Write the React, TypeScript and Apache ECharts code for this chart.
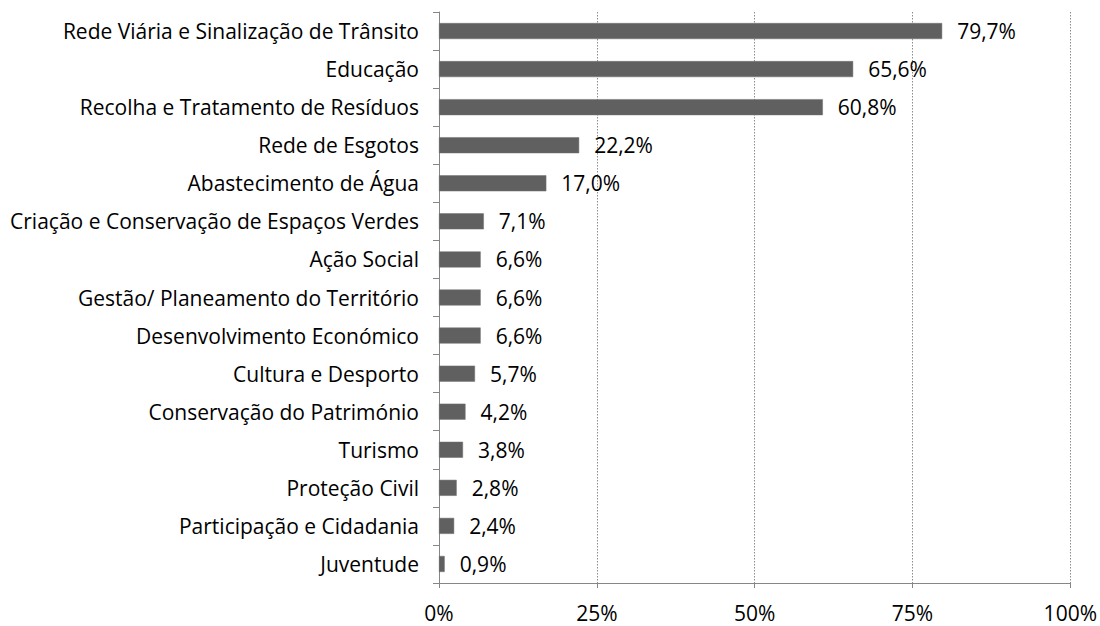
import React, { useEffect, useRef } from "react";
import * as echarts from "echarts";

const categories = [
  "Rede Viária e Sinalização de Trânsito",
  "Educação",
  "Recolha e Tratamento de Resíduos",
  "Rede de Esgotos",
  "Abastecimento de Água",
  "Criação e Conservação de Espaços Verdes",
  "Ação Social",
  "Gestão/ Planeamento do Território",
  "Desenvolvimento Económico",
  "Cultura e Desporto",
  "Conservação do Património",
  "Turismo",
  "Proteção Civil",
  "Participação e Cidadania",
  "Juventude",
];

const values = [79.7, 65.6, 60.8, 22.2, 17.0, 7.1, 6.6, 6.6, 6.6, 5.7, 4.2, 3.8, 2.8, 2.4, 0.9];

const xTicks = [0, 25, 50, 75, 100];

const FONT = "Open Sans";
const FS = 21;

export default function App() {
  const ref = useRef<HTMLDivElement>(null);
  useEffect(() => {
    if (!ref.current) return;
    const chart = echarts.init(ref.current, undefined, { renderer: "svg" });
    chart.setOption({
      animation: false,
      backgroundColor: "#ffffff",
      grid: { left: 439, right: 29, top: 12, bottom: 43, containLabel: false },
      xAxis: {
        type: "value",
        min: xTicks[0],
        max: xTicks[xTicks.length - 1],
        interval: 25,
        axisLine: { show: true, lineStyle: { color: "#868686", width: 1 } },
        axisTick: { show: true, length: 5, lineStyle: { color: "#868686" } },
        axisLabel: {
          margin: 19,
          color: "#000",
          fontFamily: FONT,
          fontSize: FS,
          formatter: (v: number) => `${v}%`,
        },
        splitLine: {
          show: true,
          lineStyle: { color: "#8c8c8c", type: [1.5, 1.5], width: 1 },
        },
      },
      yAxis: {
        type: "category",
        data: categories,
        inverse: true,
        axisLine: { show: true, lineStyle: { color: "#868686", width: 1 } },
        axisTick: { show: true, length: 6, lineStyle: { color: "#868686" } },
        axisLabel: {
          margin: 20,
          color: "#000",
          fontFamily: FONT,
          fontSize: FS,
        },
        splitLine: { show: false },
      },
      series: [
        {
          type: "bar",
          data: values,
          barWidth: 16,
          itemStyle: { color: "#606060", borderColor: "#707070", borderWidth: 0.5 },
          label: {
            show: true,
            position: "right",
            distance: 15,
            color: "#000",
            fontFamily: FONT,
            fontSize: FS,
            formatter: (p: any) => `${p.value.toFixed(1).replace(".", ",")}%`,
          },
        },
      ],
    });
    return () => chart.dispose();
  }, []);
  return <div ref={ref} style={{ width: 1100, height: 626, position: "absolute", left: 0, top: 0 }} />;
}
